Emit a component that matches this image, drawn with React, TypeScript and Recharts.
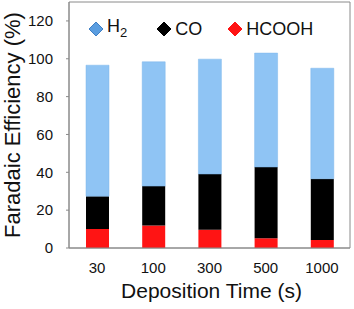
import { Bar, BarChart, Legend, ReferenceArea, XAxis, YAxis } from "recharts";

const times = ["30", "100", "300", "500", "1000"];
const hcooh = [10, 11.9, 9.6, 5.1, 4.2];
const co = [17.4, 20.8, 29.5, 37.7, 32.4];
const h2 = [69.2, 65.7, 60.7, 60.2, 58.4];
const yTicks = [0, 20, 40, 60, 80, 100, 120];
const edgeTicks = [0, 1, 2, 3, 4, 5];

const FONT = "'Liberation Sans', Arial, sans-serif";
const AXIS_GRAY = "#8a8a8a";
const TICK = { fontSize: 15, fill: "#111", fontFamily: FONT };

const data = times.map((t, i) => ({ time: t, hcooh: hcooh[i], co: co[i], h2: h2[i] }));

const legendItems = [
  { key: "h2", fill: "#5a9de0", stroke: "#3f7fc4", label: <>H<sub style={{ fontSize: 13 }}>2</sub></> },
  { key: "co", fill: "#000", stroke: "#000", label: <>CO</> },
  { key: "hcooh", fill: "#ff1414", stroke: "#ff1414", label: <>HCOOH</> },
];

function Diamond({ fill, stroke }: { fill: string; stroke: string }) {
  return (
    <svg width={16} height={16} style={{ display: "block" }}>
      <polygon points="8,1 15,8 8,15 1,8" fill={fill} stroke={stroke} strokeWidth={1} />
    </svg>
  );
}

function LegendBox() {
  return (
    <div style={{ display: "flex", alignItems: "center", fontFamily: FONT, fontSize: 18, color: "#111" }}>
      {legendItems.map((it, i) => (
        <div key={it.key} style={{ display: "flex", alignItems: "center", marginLeft: i === 0 ? 0 : i === 1 ? 29 : 25 }}>
          <Diamond fill={it.fill} stroke={it.stroke} />
          <span style={{ marginLeft: 3, lineHeight: "20px" }}>{it.label}</span>
        </div>
      ))}
    </div>
  );
}

export default function App() {
  return (
    <div style={{ width: 354, height: 309 }}>
      <style>{`body{margin:0}`}</style>
      <BarChart width={354} height={309} data={data} margin={{ top: 2, right: 4, left: 0, bottom: 0 }}>
        <XAxis
          xAxisId="edge"
          type="number"
          domain={[0, 5]}
          ticks={edgeTicks}
          height={0}
          axisLine={false}
          tickLine={{ stroke: AXIS_GRAY }}
          tickSize={3}
          tick={() => <g />}
        />
        <XAxis
          dataKey="time"
          height={61}
          tick={TICK}
          tickLine={false}
          axisLine={{ stroke: AXIS_GRAY }}
          tickSize={3}
          tickMargin={11}
          label={{
            value: "Deposition Time (s)",
            position: "insideBottom",
            offset: 11,
            dx: 2,
            style: { fontSize: 21, fill: "#111", fontFamily: FONT },
          }}
        />
        <YAxis
          width={69}
          domain={[0, 130]}
          ticks={yTicks}
          tick={TICK}
          tickSize={3}
          tickMargin={13}
          axisLine={{ stroke: AXIS_GRAY }}
          tickLine={{ stroke: AXIS_GRAY }}
          allowDataOverflow
          label={{
            value: "Faradaic Efficiency (%)",
            angle: -90,
            position: "center",
            dx: -22,
            style: { fontSize: 22, fill: "#111", fontFamily: FONT, textAnchor: "middle" },
          }}
        />
        <ReferenceArea y1={0} y2={130} fill="none" stroke={AXIS_GRAY} strokeWidth={1} ifOverflow="visible" />
        <Legend
          layout="horizontal"
          verticalAlign="middle"
          align="center"
          content={() => <LegendBox />}
          wrapperStyle={{ top: 16, left: 88, width: 262 }}
        />
        <Bar dataKey="hcooh" stackId="fe" fill="#ff1414" barSize={23} isAnimationActive={false} />
        <Bar dataKey="co" stackId="fe" fill="#000000" barSize={23} isAnimationActive={false} />
        <Bar dataKey="h2" stackId="fe" fill="#8fc4f4" stroke="#7db6ea" strokeWidth={0.5} barSize={23} isAnimationActive={false} />
      </BarChart>
    </div>
  );
}
